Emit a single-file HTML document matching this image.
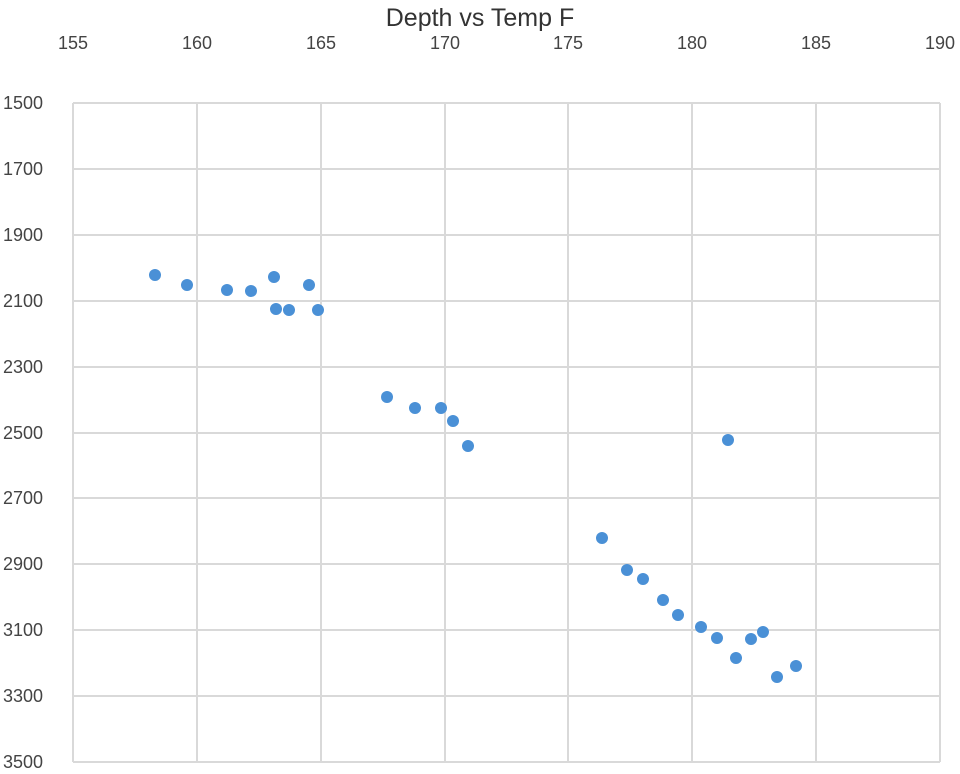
<!DOCTYPE html>
<html><head><style>body{margin:0;background:#fff}</style></head><body>
<svg width="960" height="769" xmlns="http://www.w3.org/2000/svg" font-family="Liberation Sans, sans-serif">
<rect width="960" height="769" fill="#fff"/>
<text x="480" y="26" text-anchor="middle" font-size="25" fill="#333">Depth vs Temp F</text>
<g stroke="#d9d9d9" stroke-width="2">
<line x1="73" y1="103" x2="73" y2="762"/><line x1="197" y1="103" x2="197" y2="762"/><line x1="321" y1="103" x2="321" y2="762"/><line x1="445" y1="103" x2="445" y2="762"/><line x1="568" y1="103" x2="568" y2="762"/><line x1="692" y1="103" x2="692" y2="762"/><line x1="816" y1="103" x2="816" y2="762"/><line x1="940" y1="103" x2="940" y2="762"/>
<line x1="73" y1="103" x2="940" y2="103"/><line x1="73" y1="169" x2="940" y2="169"/><line x1="73" y1="235" x2="940" y2="235"/><line x1="73" y1="301" x2="940" y2="301"/><line x1="73" y1="367" x2="940" y2="367"/><line x1="73" y1="433" x2="940" y2="433"/><line x1="73" y1="498" x2="940" y2="498"/><line x1="73" y1="564" x2="940" y2="564"/><line x1="73" y1="630" x2="940" y2="630"/><line x1="73" y1="696" x2="940" y2="696"/><line x1="73" y1="762" x2="940" y2="762"/>
</g>
<g font-size="18" fill="#444" text-anchor="middle">
<text x="73" y="49">155</text><text x="197" y="49">160</text><text x="321" y="49">165</text><text x="445" y="49">170</text><text x="568" y="49">175</text><text x="692" y="49">180</text><text x="816" y="49">185</text><text x="940" y="49">190</text>
</g>
<g font-size="18" fill="#444" text-anchor="start">
<text x="3" y="109">1500</text><text x="3" y="175">1700</text><text x="3" y="241">1900</text><text x="3" y="307">2100</text><text x="3" y="373">2300</text><text x="3" y="439">2500</text><text x="3" y="504">2700</text><text x="3" y="570">2900</text><text x="3" y="636">3100</text><text x="3" y="702">3300</text><text x="3" y="768">3500</text>
</g>
<g fill="#4a90d6">
<circle cx="155" cy="275" r="6"/><circle cx="187" cy="285" r="6"/><circle cx="227" cy="290" r="6"/><circle cx="251" cy="291" r="6"/><circle cx="274" cy="277" r="6"/><circle cx="276" cy="309" r="6"/><circle cx="289" cy="310" r="6"/><circle cx="309" cy="285" r="6"/><circle cx="318" cy="310" r="6"/>
<circle cx="387" cy="397" r="6"/><circle cx="415" cy="408" r="6"/><circle cx="441" cy="408" r="6"/><circle cx="453" cy="421" r="6"/><circle cx="468" cy="446" r="6"/>
<circle cx="728" cy="440" r="6"/><circle cx="602" cy="538" r="6"/><circle cx="627" cy="570" r="6"/><circle cx="643" cy="579" r="6"/><circle cx="663" cy="600" r="6"/><circle cx="678" cy="615" r="6"/><circle cx="701" cy="627" r="6"/><circle cx="717" cy="638" r="6"/><circle cx="751" cy="639" r="6"/><circle cx="763" cy="632" r="6"/><circle cx="736" cy="658" r="6"/><circle cx="777" cy="677" r="6"/><circle cx="796" cy="666" r="6"/>
</g>
</svg>
</body></html>
